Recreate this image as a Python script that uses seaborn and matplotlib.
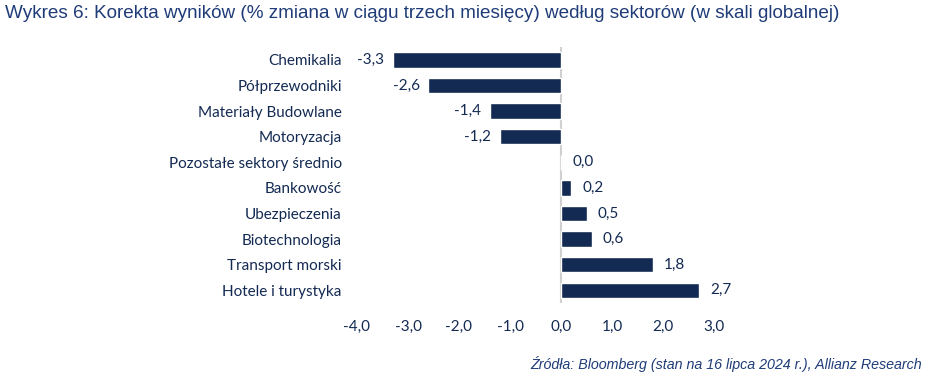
import pandas as pd
import matplotlib.pyplot as plt
import seaborn as sns

sectors = [
    'Chemikalia',
    'Półprzewodniki',
    'Materiały Budowlane',
    'Motoryzacja',
    'Pozostałe sektory średnio',
    'Bankowość',
    'Ubezpieczenia',
    'Biotechnologia',
    'Transport morski',
    'Hotele i turystyka',
]
changes = [-3.3, -2.6, -1.4, -1.2, 0.0, 0.2, 0.5, 0.6, 1.8, 2.7]
x_ticks = [-4.0, -3.0, -2.0, -1.0, 0.0, 1.0, 2.0, 3.0]

TITLE = 'Wykres 6: Korekta wyników (% zmiana w ciągu trzech miesięcy) według sektorów (w skali globalnej)'
SOURCE = 'Źródła: Bloomberg (stan na 16 lipca 2024 r.), Allianz Research'

NAVY = '#132a52'
TITLE_BLUE = '#1f3c78'

df = pd.DataFrame({'sector': sectors, 'change': changes})

sns.set_theme(style='white')
plt.rcParams['font.family'] = ['Lato', 'DejaVu Sans']

fig = plt.figure(figsize=(9.4, 3.86), dpi=100)
ax = fig.add_axes([357 / 940, 0.215, 357 / 940, 0.663])

sns.barplot(data=df, x='change', y='sector', color=NAVY, width=0.6,
            saturation=1, orient='h', ax=ax)

ax.axvline(0, color='#d0d0d0', lw=1.5, zorder=0)

# value labels: negatives left of the bar, the rest on the right
for i, v in enumerate(changes):
    label = f'{v:.1f}'.replace('.', ',')
    off, ha = ((-6, 'right') if v < 0 else (8, 'left'))
    ax.annotate(label, (v, i), xytext=(off, 0), textcoords='offset points',
                ha=ha, va='center', color=NAVY, fontsize=11)

ax.set_xlim(-4, 3)
ax.set_xticks(x_ticks)
ax.set_xticklabels([f'{t:.1f}'.replace('.', ',') for t in x_ticks])
ax.set_xlabel('')
ax.set_ylabel('')
ax.tick_params(axis='x', length=0, pad=12, labelsize=11, colors=NAVY)
ax.tick_params(axis='y', length=0, pad=11, labelsize=11, colors=NAVY)
for s in ax.spines.values():
    s.set_visible(False)

fig.text(5 / 940, 1 - 14 / 386, TITLE, fontsize=13.6, color=TITLE_BLUE,
         family=['Liberation Sans', 'DejaVu Sans'], va='center', ha='left')
fig.text(922 / 940, 1 - 364 / 386, SOURCE, fontsize=10.3, color=TITLE_BLUE,
         style='italic', family=['Liberation Sans', 'DejaVu Sans'],
         va='center', ha='right')

fig.savefig('out.png', dpi=100)
plt.close(fig)
